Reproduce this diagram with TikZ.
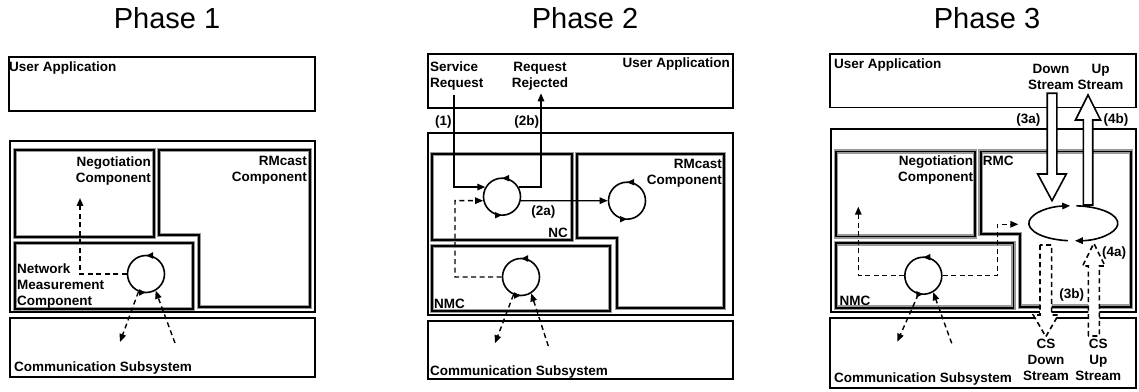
\documentclass[tikz,border=0pt]{standalone}
\usepackage{fontspec}
\setmainfont{Liberation Sans}
\usetikzlibrary{arrows.meta,decorations.markings,shapes.geometric,calc}

\tikzset{
  box/.style={draw, line width=1.6pt},
  part/.style={draw, line width=1.6pt, preaction={draw=black!40, line width=4.5pt}},
  lbl/.style={font=\bfseries\fontsize{13.5}{16}\selectfont, inner sep=0pt},
  ttl/.style={font=\fontsize{29}{32}\selectfont, inner sep=0pt, anchor=base},
  tipend/.style={-{Triangle[length=8pt,width=6.5pt]}},
  flow/.style={line width=1.4pt, tipend},
  dflow/.style={flow, dash pattern=on 5pt off 3.5pt},
  loopline/.style={line width=1.6pt},
  loopc/.style={circle, draw, line width=1.6pt, minimum size=37pt, inner sep=0pt,
    postaction={decorate, decoration={markings,
      mark=at position 0.25 with {\arrow{Triangle[length=7pt,width=6pt]}},
      mark=at position 0.75 with {\arrow{Triangle[length=7pt,width=6pt]}}}}},
  bigarrow/.style={draw, fill=white, line width=1.6pt, line join=miter},
  dbigarrow/.style={bigarrow, dash pattern=on 5pt off 3.5pt},
}

\begin{document}
\begin{tikzpicture}[x=1pt, y=1pt]
\fill[white] (0,0) rectangle (1139,391);
\useasboundingbox (0,0) rectangle (1139,391);

% ---------------- Phase 1 ----------------
\node[ttl] (p1) at (167,362.7) {Phase 1};
\draw[box] (9,280) rectangle (315,334);
\node[lbl, anchor=base west] (ua1) at (9,319.5) {User Application};
\draw[box] (10,79) rectangle (315,250);
\draw[part] (15,154) rectangle (154,241);
\node[lbl, anchor=north east, align=right] (neg1) at (151,234.9) {Negotiation\\Component};
\draw[part] (159,241) -- (310,241) -- (310,84) -- (199,84) -- (199,156) -- (159,156) -- cycle;
\node[lbl, anchor=north east, align=right] (rm1) at (307,234.9) {RMcast\\Component};
\draw[part] (15,82) rectangle (193,148);
\node[lbl, anchor=north west, align=left] (nmc1) at (17,127.9) {Network\\Measurement\\Component};
\draw[box] (10,14) rectangle (315,73);
\node[lbl, anchor=base west] (cs1) at (14,19.5) {Communication Subsystem};

\node[loopc] (c1) at (146,117) {};
\coordinate (n1) at (80,193);
\draw[dflow] (c1.west) -| (n1);
\coordinate (d1) at (120,49);
\coordinate (u1) at (175,48);
\draw[dflow] (c1.247) -- (d1);
\draw[dflow] (u1) -- (c1.300);

% ---------------- Phase 2 ----------------
\node[ttl] (p2) at (585,362.7) {Phase 2};
\draw[box] (428,283) rectangle (733,337);
\node[lbl, anchor=north west, align=left] (sr) at (430,329) {Service\\Request};
\node[lbl, anchor=north, align=center] (rr) at (540,329) {Request\\Rejected};
\node[lbl, anchor=base east] (ua2) at (730,323) {User Application};
\draw[box] (428,76) rectangle (733,258);
\draw[part] (432,151) rectangle (572,237);
\node[lbl, anchor=base east] (nc2) at (568,153.6) {NC};
\draw[part] (577,237) -- (724,237) -- (724,83) -- (617,83) -- (617,153) -- (577,153) -- cycle;
\node[lbl, anchor=north east, align=right] (rm2) at (722,232.4) {RMcast\\Component};
\draw[part] (432,80) rectangle (610,145);
\node[lbl, anchor=base west] (nmc2) at (434,83) {NMC};
\draw[box] (428,12) rectangle (733,70);
\node[lbl, anchor=base west] (cs2) at (430,15.3) {Communication Subsystem};

\node[loopc] (c2a) at (502,194.3) {};
\node[loopc] (c2b) at (627,190.3) {};
\node[loopc] (c2c) at (521,114) {};
\coordinate (s2) at (454,296);
\coordinate (r2) at (541,297.7);
\coordinate (k2) at (455,190.4);
\draw[flow] (s2) |- (c2a.150);
\draw[flow] (c2a.30) -| (r2);
\draw[flow] (c2a.-12) -- (c2b.west);
\draw[dflow] (c2c.west) -| (k2) -- (c2a.192);
\coordinate (d2) at (495,47.7);
\coordinate (u2) at (548.3,45);
\draw[dflow] (c2c.247) -- (d2);
\draw[dflow] (u2) -- (c2c.302);
\node[lbl] (l1) at (443.3,269.3) {(1)};
\node[lbl] (l2b) at (526.7,269.3) {(2b)};
\node[lbl] (l2a) at (543.3,179.3) {(2a)};

% ---------------- Phase 3 ----------------
\node[ttl] (p3) at (987,362.7) {Phase 3};
\draw[box] (830,283.3) rectangle (1136,337);
\node[lbl, anchor=base west] (ua3) at (834,322.3) {User Application};
\node[lbl, anchor=north, align=center] (ds) at (1051,327.4) {Down\\Stream};
\node[lbl, anchor=north, align=center] (us) at (1100.5,327.4) {Up\\Stream};
\draw[box] (831,79.3) rectangle (1136,261.7);
\draw[part] (836,154.3) rectangle (975,239.3);
\node[lbl, anchor=north east, align=right] (neg3) at (973.3,235.7) {Negotiation\\Component};
\draw[part] (980.7,239.3) -- (1131,239.3) -- (1131,84.3) -- (1020,84.3) -- (1020,157) -- (980.7,157) -- cycle;
\node[lbl, anchor=base west] (rmc3) at (982.7,225.6) {RMC};
\draw[part] (836,83.3) rectangle (1013.3,147.7);
\node[lbl, anchor=base west] (nmc3) at (839.3,85.3) {NMC};
\draw[box] (830,3) rectangle (1136,73.3);
\node[lbl, anchor=base west] (cs3) at (834,8.3) {Communication Subsystem};
\node[lbl, anchor=north, align=center] (csd) at (1046,52.4) {CS\\Down\\Stream};
\node[lbl, anchor=north, align=center] (csu) at (1098.3,52.4) {CS\\Up\\Stream};

% stream loop of the RMC
\node[ellipse, minimum width=89pt, minimum height=35pt, inner sep=0pt] (el) at (1073.3,167.7) {};
\draw[loopline, tipend] ([shift={(86:44.5 and 17.5)}]el.center)
  arc[start angle=86, end angle=-88, x radius=44.5, y radius=17.5];
\draw[loopline, tipend] ([shift={(263:44.5 and 17.5)}]el.center)
  arc[start angle=263, end angle=94, x radius=44.5, y radius=17.5];

% hollow stream arrows
\draw[bigarrow] (1047.2,297.7) -- (1047.2,217) -- (1037.7,217) -- (1052,190.3)
  -- (1066.3,217) -- (1056.8,217) -- (1056.8,297.7) -- cycle;
\draw[bigarrow] (1083.3,186) -- (1083.3,271) -- (1075.5,271) -- (1088,296)
  -- (1100.5,271) -- (1092.7,271) -- (1092.7,186) -- cycle;
\draw[dbigarrow] (1040,146) -- (1040,76) -- (1033.3,76) -- (1045.8,54.3)
  -- (1058.3,76) -- (1051.6,76) -- (1051.6,146) -- cycle;
\draw[dbigarrow] (1088.3,55) -- (1088.3,125) -- (1082.6,125) -- (1093.8,147.7)
  -- (1105,125) -- (1099.3,125) -- (1099.3,55) -- cycle;
\node[lbl] (l3a) at (1028.3,271) {(3a)};
\node[lbl] (l4b) at (1116,271) {(4b)};
\node[lbl] (l3b) at (1071.7,96) {(3b)};
\node[lbl] (l4a) at (1114,137.7) {(4a)};

\node[loopc] (c3) at (923.3,115.3) {};
\coordinate (n3) at (858.3,184.3);
\coordinate (b3) at (997.3,166.7);
\coordinate (e3) at (1018.3,166.7);
\draw[dflow] (c3.west) -| (n3);
\draw[dflow] (c3.east) -| (b3) -- (e3);
\coordinate (d3) at (897.3,49.3);
\coordinate (u3) at (951.7,47.7);
\draw[dflow] (c3.255) -- (d3);
\draw[dflow] (u3) -- (c3.301);
\end{tikzpicture}
\end{document}
